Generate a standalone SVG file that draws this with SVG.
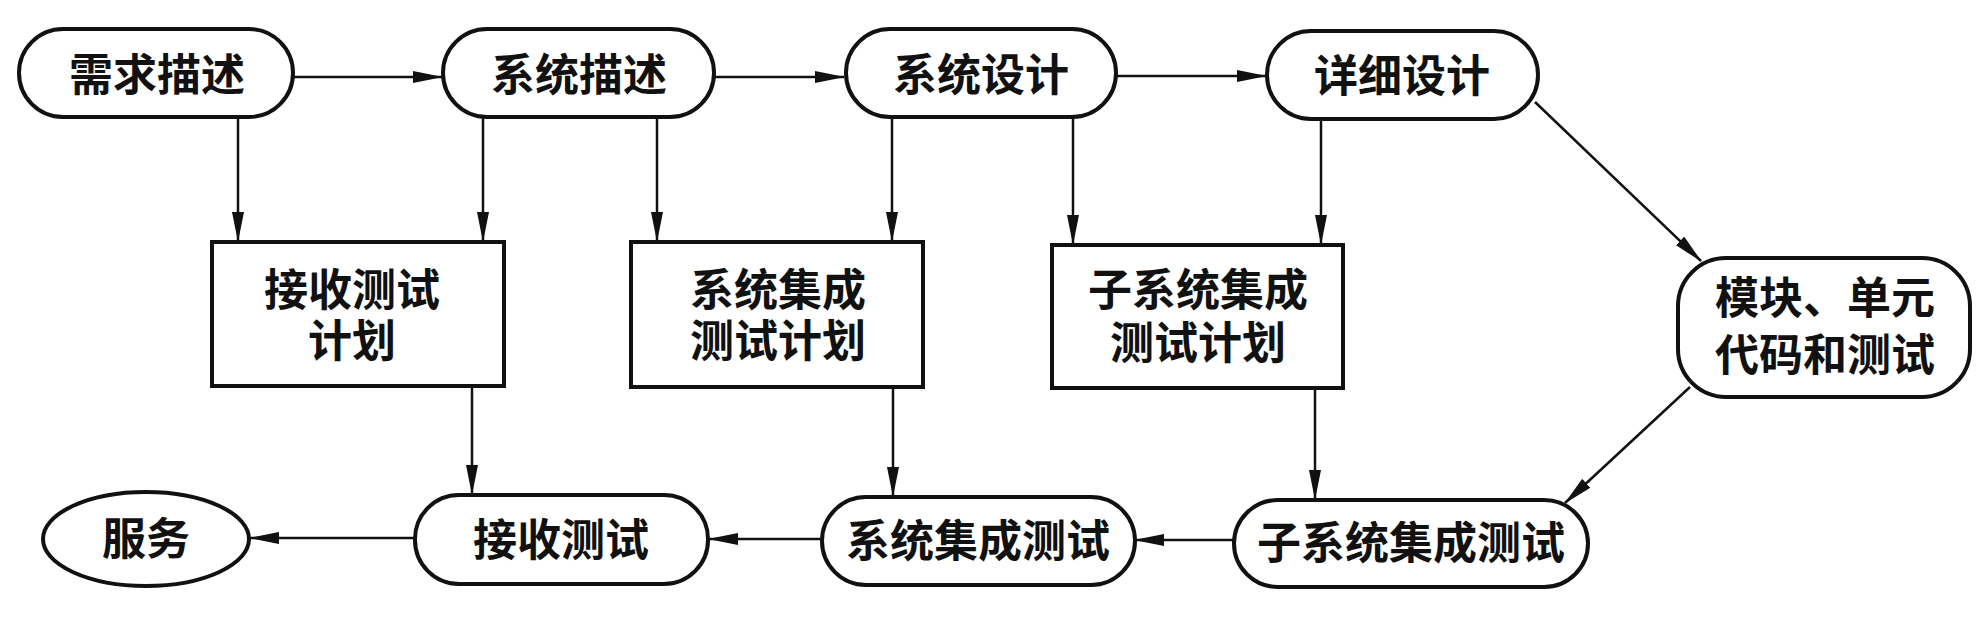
<svg xmlns="http://www.w3.org/2000/svg" width="1988" height="621" viewBox="0 0 1988 621">
<defs>
<style>
.n{fill:#fff;stroke:#111;stroke-width:4}
.t{font-family:"Liberation Sans","Noto Sans CJK SC","Noto Sans CJK JP",sans-serif;font-size:44px;font-weight:700;fill:#111;text-anchor:middle}
.c{fill:none;stroke:#111;stroke-width:2.5;marker-end:url(#ah)}
</style>
<marker id="ah" viewBox="0 0 30 12" refX="29" refY="6" markerWidth="30" markerHeight="12" markerUnits="userSpaceOnUse" orient="auto">
<path d="M0,0 L30,6 L0,12 Z" fill="#111"/>
</marker>
</defs>
<rect width="1988" height="621" fill="#fff"/>
<g id="connectors">
<line class="c" x1="293" y1="77" x2="442" y2="77"/>
<line class="c" x1="714" y1="77" x2="844" y2="77"/>
<line class="c" x1="1116" y1="76" x2="1266" y2="76"/>
<line class="c" x1="238" y1="117" x2="238" y2="241"/>
<line class="c" x1="483" y1="116" x2="483" y2="241"/>
<line class="c" x1="657" y1="117" x2="657" y2="241"/>
<line class="c" x1="892" y1="117" x2="892" y2="241"/>
<line class="c" x1="1073" y1="117" x2="1073" y2="244"/>
<line class="c" x1="1321" y1="119" x2="1321" y2="244"/>
<line class="c" x1="1535" y1="102" x2="1701" y2="261"/>
<line class="c" x1="1690" y1="387" x2="1565" y2="503"/>
<line class="c" x1="472" y1="386" x2="472" y2="494"/>
<line class="c" x1="893" y1="387" x2="893" y2="496"/>
<line class="c" x1="1315" y1="388" x2="1315" y2="499"/>
<line class="c" x1="1234" y1="540" x2="1135" y2="540"/>
<line class="c" x1="822" y1="539" x2="709" y2="539"/>
<line class="c" x1="415" y1="538" x2="250" y2="538"/>
</g>
<g id="n1"><rect class="n" x="19" y="29" width="274" height="88" rx="44"/><text class="t" x="157" y="91">需求描述</text></g>
<g id="n2"><rect class="n" x="443" y="29" width="271" height="88" rx="44"/><text class="t" x="579" y="91">系统描述</text></g>
<g id="n3"><rect class="n" x="846" y="29" width="270" height="88" rx="44"/><text class="t" x="981" y="91">系统设计</text></g>
<g id="n4"><rect class="n" x="1267" y="31" width="271" height="88" rx="44"/><text class="t" x="1402" y="92">详细设计</text></g>
<g id="p1"><rect class="n" x="212" y="242" width="292" height="144"/><text class="t" x="352" y="306">接收测试</text><text class="t" x="352" y="357">计划</text></g>
<g id="p2"><rect class="n" x="631" y="242" width="292" height="145"/><text class="t" x="778" y="306">系统集成</text><text class="t" x="778" y="357">测试计划</text></g>
<g id="p3"><rect class="n" x="1052" y="245" width="291" height="143"/><text class="t" x="1198" y="306">子系统集成</text><text class="t" x="1198" y="359">测试计划</text></g>
<g id="m"><rect class="n" x="1678" y="258" width="292" height="139" rx="48"/><text class="t" x="1825" y="314">模块、单元</text><text class="t" x="1825" y="371">代码和测试</text></g>
<g id="s"><ellipse class="n" cx="146" cy="539" rx="103" ry="47"/><text class="t" x="146" y="555">服务</text></g>
<g id="b1"><rect class="n" x="415" y="495" width="293" height="89" rx="44"/><text class="t" x="561" y="556">接收测试</text></g>
<g id="b2"><rect class="n" x="822" y="497" width="313" height="88" rx="44"/><text class="t" x="978" y="557">系统集成测试</text></g>
<g id="b3"><rect class="n" x="1234" y="500" width="354" height="87" rx="44"/><text class="t" x="1411" y="559">子系统集成测试</text></g>
</svg>
